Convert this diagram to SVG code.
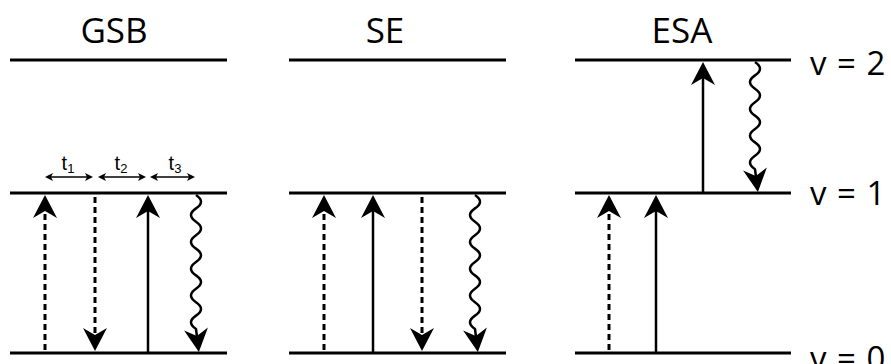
<svg xmlns="http://www.w3.org/2000/svg" width="891" height="364" viewBox="0 0 891 364">
  <style>
    .level { stroke: #000; stroke-width: 3; fill: none; }
    .solid { stroke: #000; stroke-width: 2.5; fill: none; marker-end: url(#head); }
    .dash { stroke: #000; stroke-width: 3; stroke-dasharray: 6 4; fill: none; marker-end: url(#head); }
    .wave { stroke: #000; stroke-width: 2.5; fill: none; marker-end: url(#head); stroke-linejoin: round; }
    .delay { stroke: #000; stroke-width: 1.5; fill: none; marker-start: url(#small); marker-end: url(#small); }
    .title { font-family: "Open Sans", "Liberation Sans", sans-serif; font-size: 35px; fill: #000; text-anchor: middle; }
    .vlabel { font-family: "Open Sans", "Liberation Sans", sans-serif; font-size: 33px; fill: #000; word-spacing: 2px; }
    .tlabel { font-family: "Liberation Sans", Arial, sans-serif; font-size: 20px; fill: #000; text-anchor: middle; }
  </style>
  <defs>
    <!-- barbed head; the tip sits 15 units past the path end -->
    <marker id="head" markerUnits="userSpaceOnUse" viewBox="-10 -13 28 26" refX="0" refY="0" markerWidth="28" markerHeight="26" orient="auto" overflow="visible">
      <path d="M15,0 L-8,-12 L-1,0 L-8,12 Z" fill="#000"/>
    </marker>
    <marker id="small" markerUnits="userSpaceOnUse" viewBox="-4 -5 14 10" refX="0" refY="0" markerWidth="14" markerHeight="10" orient="auto-start-reverse" overflow="visible">
      <path d="M3,0 L-5,-4 L-3,0 L-5,4 Z" fill="#000"/>
    </marker>
  </defs>

  <!-- level titles -->
  <text class="title" x="114" y="43">GSB</text>
  <text class="title" x="385" y="43">SE</text>
  <text class="title" x="682" y="43">ESA</text>

  <!-- GSB panel -->
  <g id="gsb">
    <line class="level" x1="10" y1="60" x2="227" y2="60"/>
    <line class="level" x1="10" y1="193" x2="227" y2="193"/>
    <line class="level" x1="10" y1="353" x2="227" y2="353"/>
    <text class="tlabel" x="68" y="170">t<tspan font-size="13" dy="3">1</tspan></text>
    <text class="tlabel" x="121" y="170">t<tspan font-size="13" dy="3">2</tspan></text>
    <text class="tlabel" x="175" y="170">t<tspan font-size="13" dy="3">3</tspan></text>
  </g>

  <!-- SE panel -->
  <g id="se">
    <line class="level" x1="289" y1="60" x2="506" y2="60"/>
    <line class="level" x1="289" y1="193" x2="506" y2="193"/>
    <line class="level" x1="289" y1="353" x2="506" y2="353"/>
  </g>

  <!-- ESA panel -->
  <g id="esa">
    <line class="level" x1="575" y1="60" x2="791" y2="60"/>
    <line class="level" x1="575" y1="193" x2="791" y2="193"/>
    <line class="level" x1="575" y1="353" x2="791" y2="353"/>
    <text class="vlabel" x="810" y="75">v = 2</text>
    <text class="vlabel" x="810" y="205">v = 1</text>
    <text class="vlabel" x="810" y="370">v = 0</text>
  </g>

  <!-- transitions -->
  <g id="connectors">
    <!-- GSB -->
    <line class="delay" x1="48" y1="177" x2="90" y2="177"/>
    <line class="delay" x1="101" y1="177" x2="143" y2="177"/>
    <line class="delay" x1="153" y1="177" x2="192" y2="177"/>
    <line class="dash" x1="45" y1="350" x2="45" y2="210"/>
    <line class="dash" x1="95" y1="197" x2="95" y2="336"/>
    <line class="solid" x1="148" y1="353" x2="148" y2="210"/>
    <path class="wave" d="M196,195 q10,6.7 0,13.4 q-10,6.7 0,13.4 q10,6.7 0,13.4 q-10,6.7 0,13.4 q10,6.7 0,13.4 q-10,6.7 0,13.4 q10,6.7 0,13.4 q-10,6.7 0,13.4 q10,6.7 0,13.4 q-10,6.7 0,13.4 L197,337"/>
    <!-- SE -->
    <line class="dash" x1="324" y1="350" x2="324" y2="210"/>
    <line class="solid" x1="373" y1="353" x2="373" y2="210"/>
    <line class="dash" x1="422" y1="197" x2="422" y2="336"/>
    <path class="wave" d="M475,195 q10,6.7 0,13.4 q-10,6.7 0,13.4 q10,6.7 0,13.4 q-10,6.7 0,13.4 q10,6.7 0,13.4 q-10,6.7 0,13.4 q10,6.7 0,13.4 q-10,6.7 0,13.4 q10,6.7 0,13.4 q-10,6.7 0,13.4 L476,337"/>
    <!-- ESA -->
    <line class="dash" x1="609" y1="350" x2="609" y2="210"/>
    <line class="solid" x1="656" y1="353" x2="656" y2="210"/>
    <line class="solid" x1="703" y1="193" x2="703" y2="77"/>
    <path class="wave" d="M755,62 q10,6.7 0,13.4 q-10,6.7 0,13.4 q10,6.7 0,13.4 q-10,6.7 0,13.4 q10,6.7 0,13.4 q-10,6.7 0,13.4 q10,6.7 0,13.4 q-10,6.7 0,13.4 L756,177"/>
  </g>
</svg>
